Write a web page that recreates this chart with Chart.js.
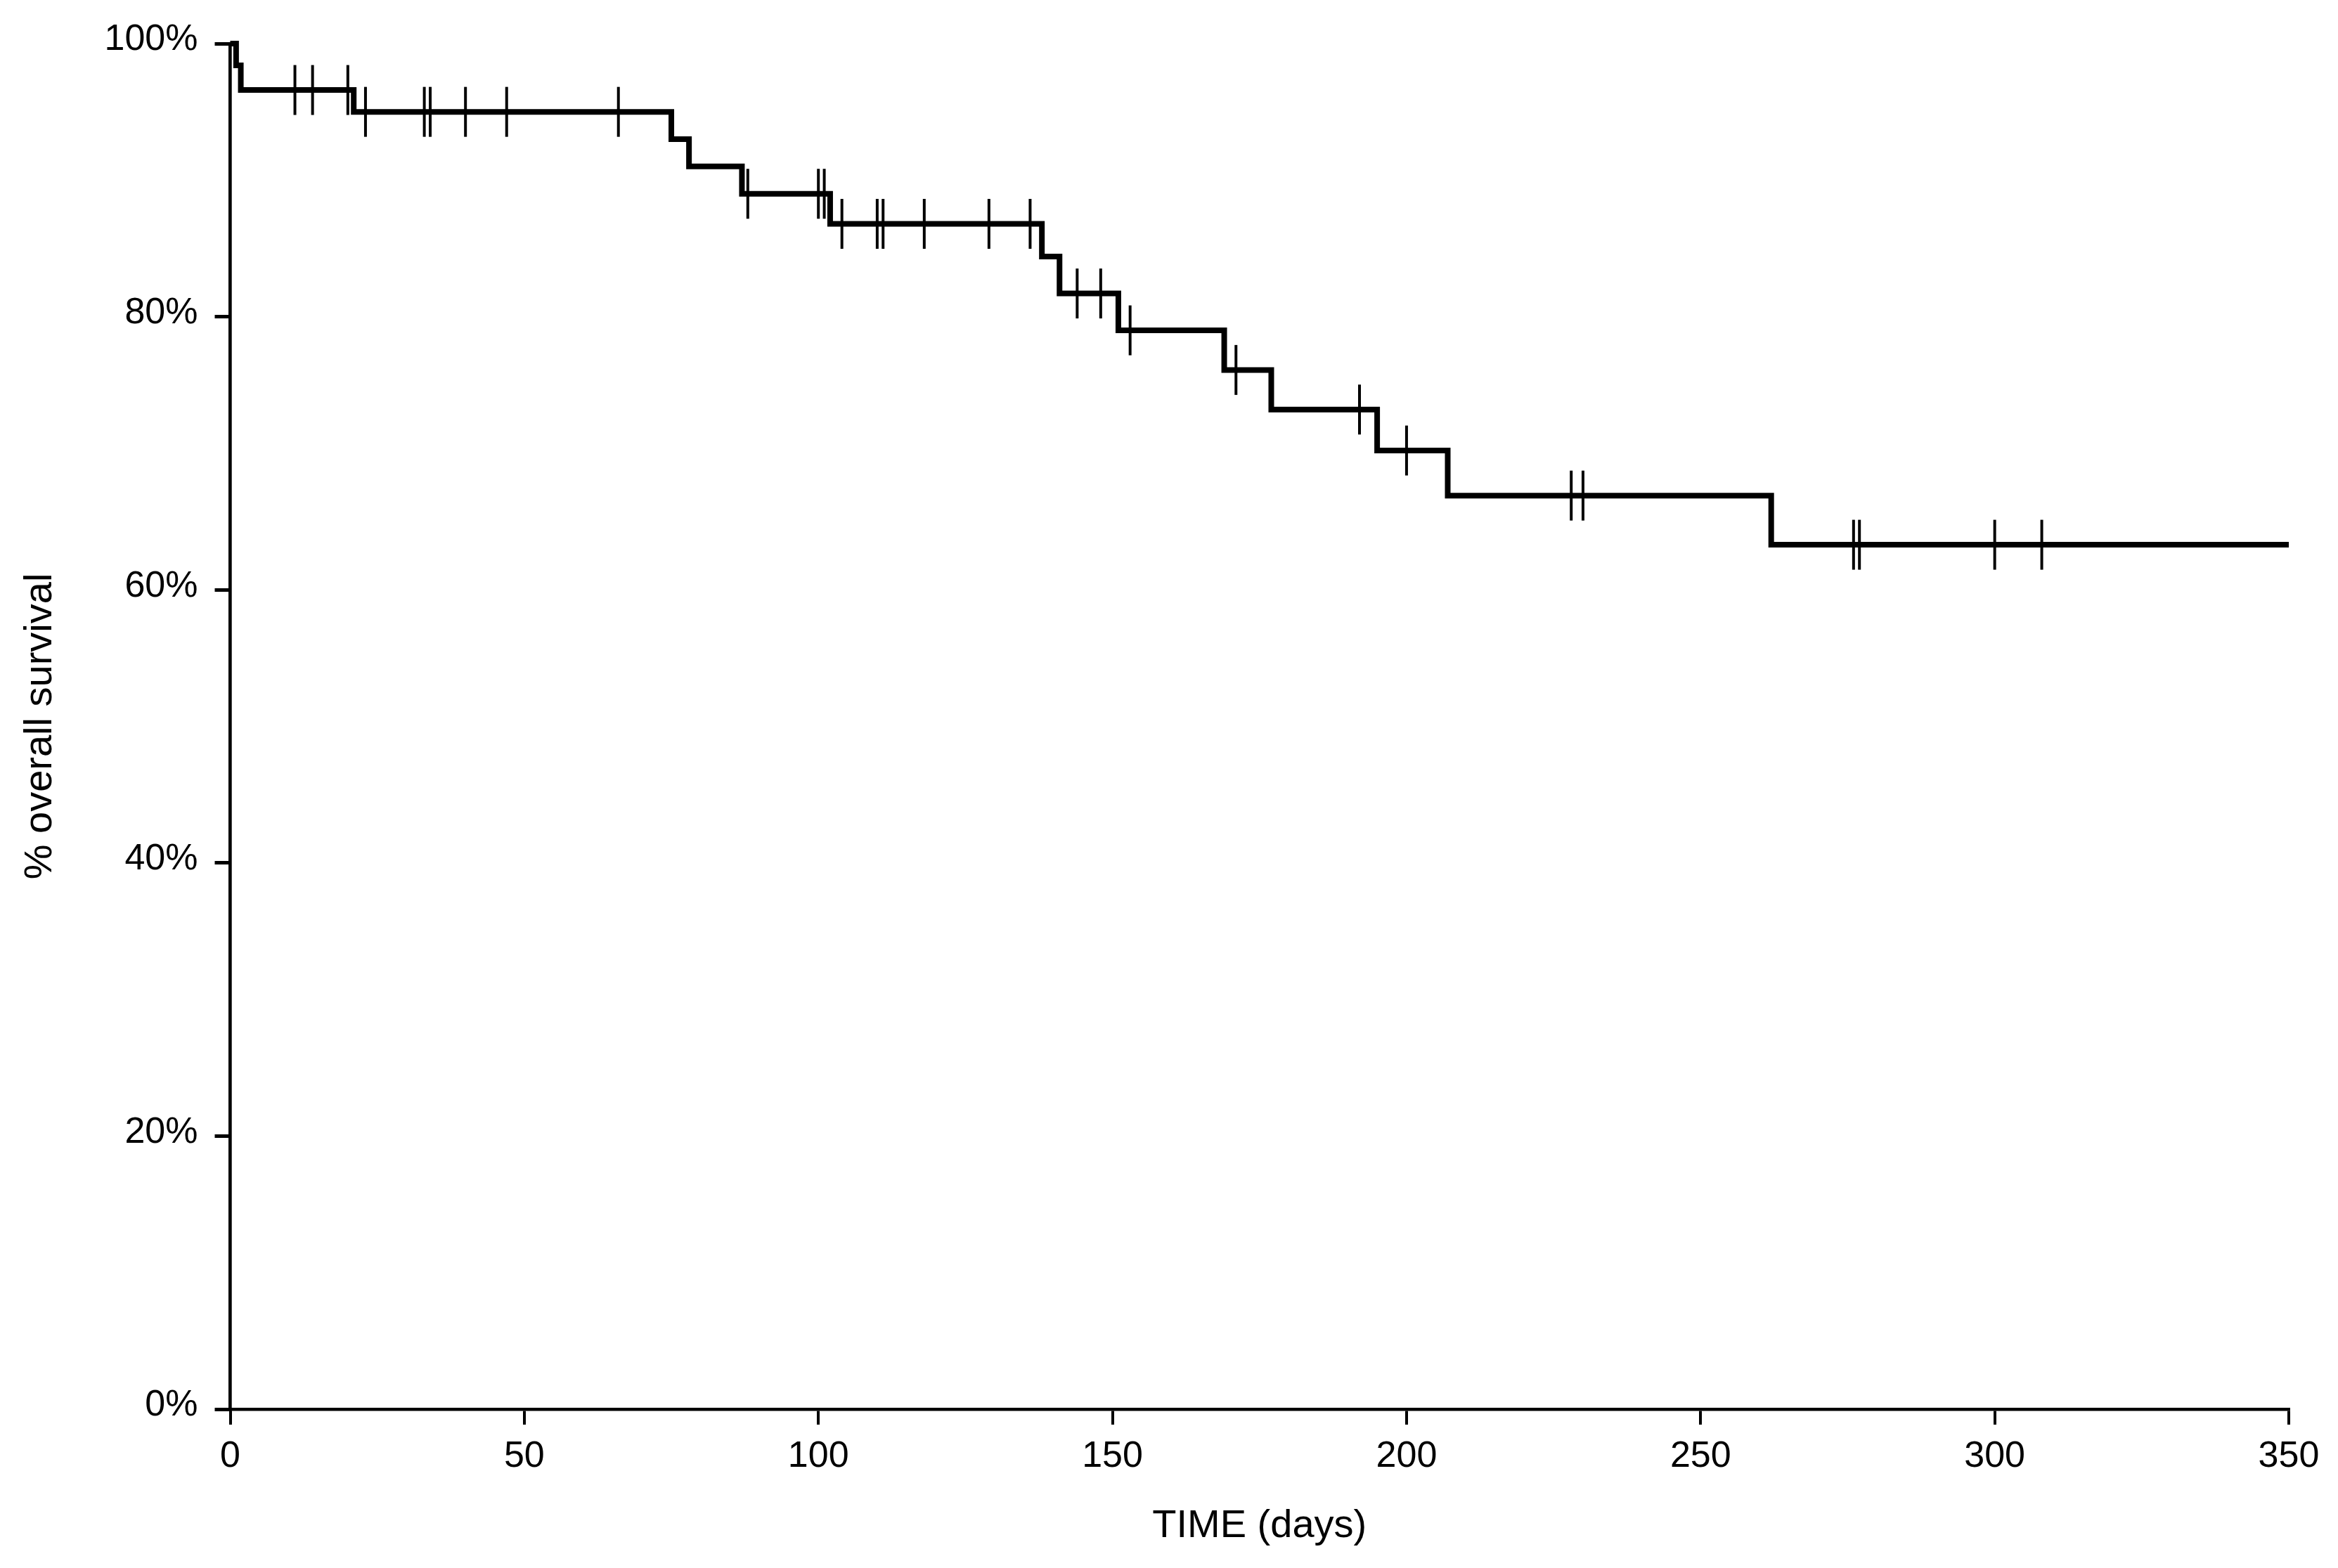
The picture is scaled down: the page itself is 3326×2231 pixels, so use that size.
<!DOCTYPE html>
<html><head><meta charset="utf-8">
<script src="https://cdn.jsdelivr.net/npm/chart.js@4/dist/chart.umd.min.js"></script>
<style>html,body{margin:0;padding:0;background:#fff;} canvas{display:block;}</style>
</head><body>
<canvas id="c" width="3326" height="2231"></canvas>
<script>
// Kaplan-Meier step data (days, % surviving after each event)
const eventDays   = [0, 1, 1.8, 21, 75, 78, 87, 102, 138, 141, 151, 169, 177, 195, 207, 262, 350];
const survivalPct = [100, 98.4, 96.6, 95.0, 93.0, 91.0, 89.0, 86.8, 84.4, 81.7, 79.0, 76.1, 73.2, 70.2, 66.9, 63.3, 63.3];
// Censored observations (days)
const censorDays = [11, 14, 20, 23, 33, 34, 40, 47, 66, 88, 100, 101, 104, 110, 111, 118, 129, 136,
                    144, 148, 153, 171, 192, 200, 228, 230, 276, 277, 300, 308];
// Axis ticks
const xTicks = [0, 50, 100, 150, 200, 250, 300, 350];
const yTicks = [0, 20, 40, 60, 80, 100];
const xTitle = 'TIME (days)';
const yTitle = '% overall survival';

function survivalAt(t) {
  let s = survivalPct[0];
  for (let i = 0; i < eventDays.length; i++) if (eventDays[i] <= t) s = survivalPct[i];
  return s;
}

const FONT = "'Liberation Sans', Arial, Helvetica, sans-serif";
Chart.defaults.color = '#000';
Chart.defaults.font.family = FONT;

const stepData = eventDays.map((d, i) => ({x: d, y: survivalPct[i]}));
const censorData = censorDays.map(d => ({x: d, y: survivalAt(d)}));

new Chart(document.getElementById('c'), {
  type: 'line',
  data: {
    datasets: [
      {
        data: stepData,
        stepped: 'before',
        borderColor: '#000',
        borderWidth: 8,
        borderJoinStyle: 'miter',
        borderCapStyle: 'butt',
        pointRadius: 0,
        fill: false,
        clip: false
      },
      {
        data: censorData,
        showLine: false,
        pointStyle: 'line',
        rotation: 90,
        pointRadius: 35.5,
        pointHoverRadius: 35.5,
        pointBorderWidth: 4,
        pointBorderColor: '#000',
        pointBackgroundColor: '#000',
        clip: false
      }
    ]
  },
  options: {
    responsive: false,
    animation: false,
    devicePixelRatio: 1,
    events: [],
    layout: { padding: { left: 0, top: 62, right: 70, bottom: 0 } },
    plugins: { legend: { display: false }, tooltip: { enabled: false } },
    scales: {
      x: {
        type: 'linear',
        min: 0, max: 350,
        afterBuildTicks: s => { s.ticks = xTicks.map(v => ({value: v})); },
        afterFit: s => { s.height = 226; },
        ticks: { font: { size: 52 }, padding: 14, color: '#000', maxRotation: 0 },
        grid: { drawOnChartArea: false, drawTicks: true, tickLength: 22, tickWidth: 4, tickColor: '#000', lineWidth: 4 },
        border: { display: true, color: '#000', width: 4.5 },
        title: { display: true, text: xTitle, font: { size: 56 }, color: '#000', padding: { top: 0, bottom: 26 } }
      },
      y: {
        type: 'linear',
        min: 0, max: 100,
        afterBuildTicks: s => { s.ticks = yTicks.map(v => ({value: v})); },
        afterFit: s => { s.width = 327.5; },
        ticks: { font: { size: 52 }, padding: 24, color: '#000', labelOffset: -5, callback: v => v + '%' },
        grid: { drawOnChartArea: false, drawTicks: true, tickLength: 22, tickWidth: 5, tickColor: '#000', lineWidth: 5 },
        border: { display: true, color: '#000', width: 4.7 },
        title: { display: true, text: yTitle, font: { size: 56 }, color: '#000', padding: { top: 24, bottom: 0 } }
      }
    }
  }
});
</script>
</body></html>
